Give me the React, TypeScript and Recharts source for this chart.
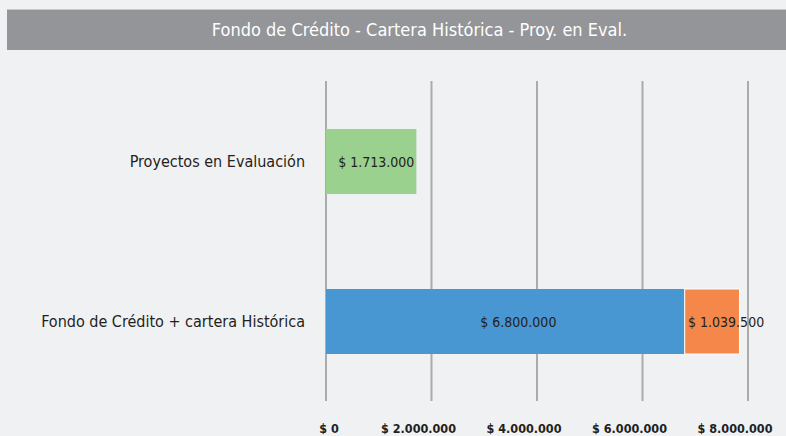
import React from "react";
import { BarChart, Bar, XAxis, YAxis, CartesianGrid, LabelList } from "recharts";

const title = "Fondo de Crédito - Cartera Histórica - Proy. en Eval.";
const categories = ["Proyectos en Evaluación", "Fondo de Crédito + cartera Histórica"];
const proyectosValues = [1713000, null];
const fondoValues = [null, 6800000];
const carteraValues = [null, 1039500];
const xTicks = [0, 2000000, 4000000, 6000000, 8000000];

const data = categories.map((c, i) => ({
  name: c,
  proyectos: proyectosValues[i],
  fondo: fondoValues[i],
  cartera: carteraValues[i],
}));

const FONT = "'Liberation Sans Narrow', 'DejaVu Sans Condensed', 'Liberation Sans', sans-serif";

function fmt(v: number): string {
  const s = Math.round(v).toString();
  return "$ " + s.replace(/\B(?=(\d{3})+(?!\d))/g, ".");
}

const makeLabel = (dx: number) => (props: any) => {
  const { x, y, width, height, value } = props;
  if (value == null) return null;
  return (
    <text
      x={x + width / 2 + dx}
      y={y + height / 2}
      textAnchor="middle"
      dominantBaseline="central"
      fill="#231f20"
      fontFamily={FONT}
      fontSize={14}
    >
      {fmt(value)}
    </text>
  );
};

const YTick = (props: any) => {
  const { y, payload } = props;
  return (
    <text x={305} y={y} textAnchor="end" dominantBaseline="central" fill="#231f20" fontFamily={FONT} fontSize={16}>
      {payload.value}
    </text>
  );
};

const XTick = (props: any) => {
  const { x, payload } = props;
  const shift = payload.value === 0 ? 3 : -13;
  return (
    <text x={x + shift} y={433} textAnchor="middle" fill="#231f20" fontFamily={FONT} fontSize={12.5} fontWeight="bold">
      {fmt(payload.value)}
    </text>
  );
};

export default function App() {
  return (
    <div style={{ position: "absolute", left: 0, top: 0, width: 786, height: 436, background: "#f0f1f3", overflow: "hidden" }}>
      <div
        style={{
          position: "absolute",
          left: 7,
          top: 9,
          width: 779,
          height: 41,
          background: "#939598",
          color: "#ffffff",
          fontFamily: FONT,
          fontSize: 18,
          lineHeight: "40px",
          textAlign: "center",
          borderTop: "1px solid #c8c9cb",
          boxSizing: "border-box",
          paddingLeft: 46,
        }}
      >
        {title}
      </div>
      <div style={{ position: "absolute", left: 0, top: 0 }}>
        <BarChart
          width={786}
          height={436}
          data={data}
          layout="vertical"
          margin={{ top: 81, right: 38, bottom: 0, left: 0 }}
          barSize={65}
        >
          <CartesianGrid horizontal={false} vertical={true} stroke="#ababab" strokeWidth={2} />
          <XAxis
            type="number"
            domain={[0, 8000000]}
            ticks={xTicks}
            axisLine={false}
            tickLine={false}
            height={35}
            tick={<XTick />}
            interval={0}
          />
          <YAxis type="category" dataKey="name" width={326} axisLine={false} tickLine={false} tick={<YTick />} />
          <Bar dataKey="proyectos" stackId="a" fill="#9bd18e" isAnimationActive={false}>
            <LabelList dataKey="proyectos" content={makeLabel(5)} />
          </Bar>
          <Bar dataKey="fondo" stackId="a" fill="#4897d2" isAnimationActive={false}>
            <LabelList dataKey="fondo" content={makeLabel(13)} />
          </Bar>
          <Bar dataKey="cartera" stackId="a" fill="#f5874a" stroke="#ffffff" strokeWidth={1} isAnimationActive={false}>
            <LabelList dataKey="cartera" content={makeLabel(14)} />
          </Bar>
        </BarChart>
      </div>
    </div>
  );
}
